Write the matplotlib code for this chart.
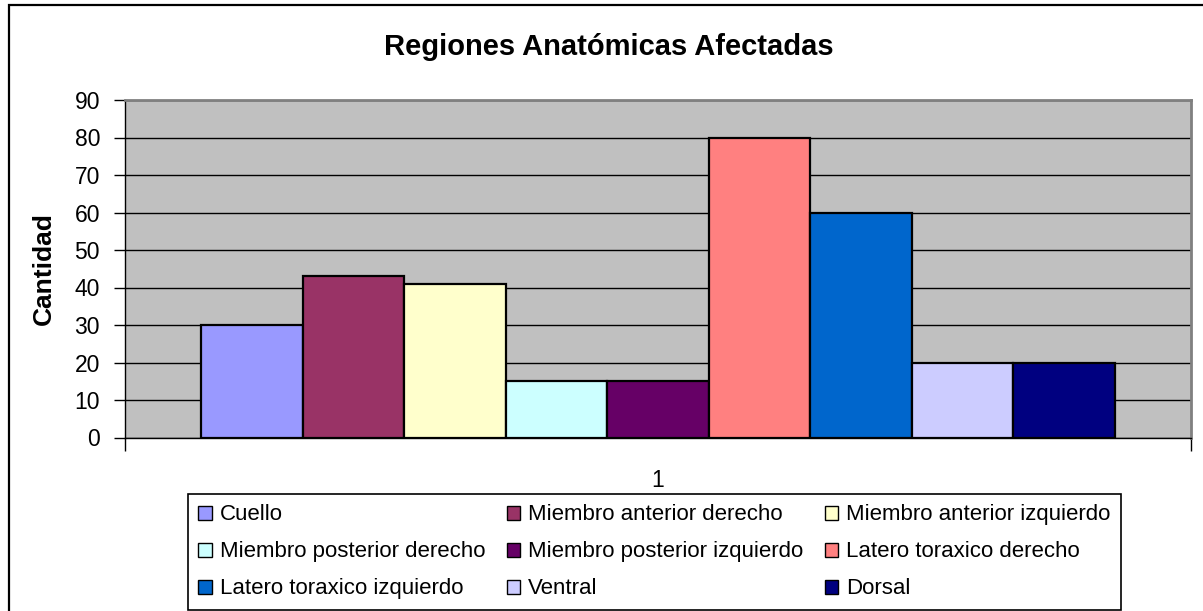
import matplotlib
matplotlib.use('Agg')
import matplotlib.pyplot as plt
from matplotlib.patches import Patch, Rectangle

plt.rcParams['font.family'] = ['Liberation Sans', 'DejaVu Sans']

# data
regiones = ['Cuello', 'Miembro anterior derecho', 'Miembro anterior izquierdo',
            'Miembro posterior derecho', 'Miembro posterior izquierdo',
            'Latero toraxico derecho', 'Latero toraxico izquierdo',
            'Ventral', 'Dorsal']
cantidad = [30, 43, 41, 15, 15, 80, 60, 20, 20]
colores = ['#9999FF', '#993366', '#FFFFCC', '#CCFFFF', '#660066',
           '#FF8080', '#0066CC', '#CCCCFF', '#000080']
categoria = ['1']

fig = plt.figure(figsize=(12.03, 6.11), dpi=100)
fig.patch.set_facecolor('white')

# outer chart border (right / bottom edges fall outside the image)
fig.patches.append(Rectangle((9 / 1203, -0.05), 1.1, 1 - 5 / 611 + 0.05,
                             transform=fig.transFigure, fill=False,
                             edgecolor='black', linewidth=1.6))

ax = fig.add_axes([125 / 1203, 1 - 437.5 / 611, 1066 / 1203, 337.5 / 611])
ax.set_facecolor('#C0C0C0')

n = len(cantidad)
grupo = 0.857
w = grupo / n
for i, (val, col) in enumerate(zip(cantidad, colores)):
    ax.bar(1 + (i - (n - 1) / 2) * w, val, width=w, color=col,
           edgecolor='black', linewidth=1.6, label=regiones[i], zorder=3)

ax.set_xlim(0.5, 1.5)
ax.set_ylim(0, 90)
ax.set_yticks(range(0, 91, 10))
ax.yaxis.grid(True, color='black', linewidth=1)
ax.set_axisbelow(True)

ax.set_xticks([1])
ax.set_xticklabels(categoria)
ax.set_xticks([0.5, 1.5], minor=True)
ax.tick_params(axis='x', which='major', length=0, pad=22.5, labelsize=16.5)
ax.tick_params(axis='x', which='minor', length=9, width=1, direction='out')
ax.tick_params(axis='y', length=8, width=1, direction='out', pad=10,
               labelsize=16.5)

for s in ['top', 'right']:
    ax.spines[s].set_color('#808080')
    ax.spines[s].set_linewidth(2)
for s in ['left', 'bottom']:
    ax.spines[s].set_color('black')
    ax.spines[s].set_linewidth(1)

ax.set_ylabel('Cantidad', fontsize=19, fontweight='bold')
ax.yaxis.set_label_coords(-0.065, 0.5)

fig.text(609 / 1203, 1 - 47 / 611, 'Regiones Anatómicas Afectadas',
         ha='center', va='center', fontsize=21, fontweight='bold')

# legend, row-major order like the original
handles = [Patch(facecolor=c, edgecolor='black', linewidth=1) for c in colores]
orden = [0, 3, 6, 1, 4, 7, 2, 5, 8]
leg = fig.legend([handles[k] for k in orden], [regiones[k] for k in orden],
                 loc='upper left', ncol=3,
                 bbox_to_anchor=(188 / 1203, 1 - 494 / 611),
                 borderaxespad=0, fancybox=False, edgecolor='black',
                 framealpha=1, fontsize=16, handlelength=0.6,
                 handleheight=0.6, handletextpad=0.37, labelspacing=0.72,
                 borderpad=0.47, columnspacing=0.95)
leg.get_frame().set_linewidth(1.2)

fig.savefig('out.png', dpi=100)
